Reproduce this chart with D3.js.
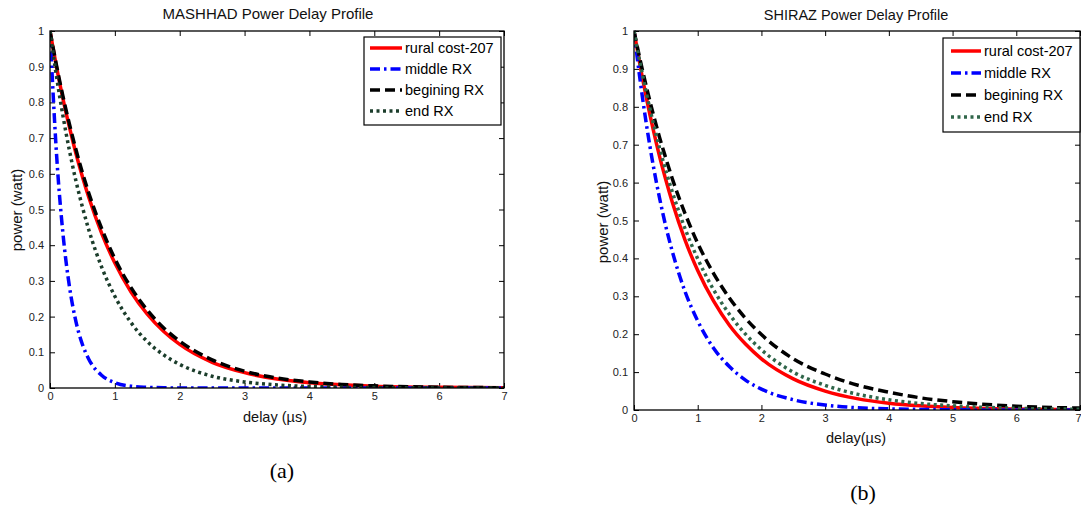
<!DOCTYPE html>
<html><head><meta charset="utf-8">
<script src="https://cdn.jsdelivr.net/npm/d3@7"></script>
<style>
body{margin:0;background:#fff;}
svg{display:block;font-family:"Liberation Sans",Arial,sans-serif;}
</style>
</head><body>
<svg id="chart" width="1081" height="515"></svg>
<script>
// ---- data ----
const delays = [0,0.1,0.2,0.3,0.4,0.5,0.6,0.8,1,1.25,1.5,1.75,2,2.5,3,3.5,4,4.5,5,6,7];
const seriesNames = ["rural cost-207","middle RX","begining RX","end RX"];

// MASHHAD panel (a)
const mashhadRural    = [1,0.90,0.81,0.73,0.657,0.592,0.533,0.432,0.35,0.269,0.207,0.159,0.122,0.072,0.043,0.025,0.015,0.009,0.005,0.002,0.001];
const mashhadMiddle   = [1,0.657,0.432,0.284,0.186,0.122,0.080,0.035,0.015,0.005,0.002,0.0006,0,0,0,0,0,0,0,0,0];
const mashhadBegining = [1,0.904,0.817,0.739,0.668,0.603,0.545,0.445,0.362,0.281,0.218,0.169,0.131,0.079,0.047,0.028,0.017,0.010,0.006,0.0022,0.0008];
const mashhadEnd      = [1,0.873,0.762,0.665,0.58,0.507,0.442,0.337,0.257,0.183,0.13,0.093,0.066,0.033,0.017,0.0086,0.0043,0.0022,0.0011,0.0003,0];

// SHIRAZ panel (b)
const shirazRural    = [1,0.905,0.819,0.741,0.67,0.607,0.549,0.449,0.368,0.287,0.223,0.174,0.135,0.082,0.05,0.03,0.018,0.011,0.0067,0.0025,0.0009];
const shirazMiddle   = [1,0.865,0.748,0.647,0.56,0.484,0.419,0.313,0.235,0.163,0.114,0.079,0.055,0.027,0.013,0.006,0.003,0.0015,0.0007,0,0];
const shirazBegining = [1,0.921,0.849,0.782,0.72,0.664,0.611,0.519,0.44,0.36,0.295,0.242,0.199,0.135,0.095,0.066,0.047,0.032,0.022,0.01,0.005];
const shirazEnd      = [1,0.912,0.832,0.759,0.692,0.631,0.576,0.479,0.399,0.317,0.252,0.2,0.159,0.1,0.065,0.042,0.027,0.017,0.011,0.0045,0.002];

const xTicks = [0,1,2,3,4,5,6,7];
const xTickLabels = ["0","1","2","3","4","5","6","7"];
const yTicks = [0,0.1,0.2,0.3,0.4,0.5,0.6,0.7,0.8,0.9,1];
const yTickLabels = ["0","0.1","0.2","0.3","0.4","0.5","0.6","0.7","0.8","0.9","1"];

// ---- drawing ----
const svg = d3.select("#chart");

const panels = [
  {
    id:"a", title:"MASHHAD Power Delay Profile", xLabel:"delay (\u00b5s)", caption:"(a)",
    values:[mashhadRural, mashhadMiddle, mashhadBegining, mashhadEnd],
    left:50, right:504, top:31, bottom:388,
    titleX:268, titleY:19, titleSize:15,
    xLabelX:275, xLabelY:422, yLabelX:22, yLabelY:210,
    capX:282, capY:478,
    leg:{x0:364, x1:501, y0:37, y1:125, row0:48, step:21, lx0:370, lx1:402, tx:405},
    green:"#1b3d2b", lastTickEnd:false
  },
  {
    id:"b", title:"SHIRAZ Power Delay Profile", xLabel:"delay(\u00b5s)", caption:"(b)",
    values:[shirazRural, shirazMiddle, shirazBegining, shirazEnd],
    left:634, right:1080, top:31, bottom:410,
    titleX:856, titleY:20, titleSize:14.5,
    xLabelX:856, xLabelY:443, yLabelX:608, yLabelY:222,
    capX:863, capY:500,
    leg:{x0:943, x1:1080, y0:38, y1:132, row0:51, step:22, lx0:951, lx1:981, tx:984},
    green:"#30664a", lastTickEnd:true
  }
];

panels.forEach(p => {
  const g = svg.append("g");
  const x = d3.scaleLinear().domain([0,7]).range([p.left, p.right]);
  const y = d3.scaleLinear().domain([0,1]).range([p.bottom, p.top]);

  const styles = [
    {color:"#ff0000", dash:null},
    {color:"#0000ff", dash:"10,4,2.5,4"},
    {color:"#000000", dash:"10,5"},
    {color:p.green, dash:"3,3.5"}
  ];

  const clipId = "clip-" + p.id;
  svg.append("clipPath").attr("id", clipId).append("rect")
    .attr("x", p.left).attr("y", p.top - 2)
    .attr("width", p.right - p.left).attr("height", p.bottom - p.top + 2);

  const axB = d3.axisBottom(x).tickValues(xTicks).tickFormat((d,i)=>xTickLabels[i]).tickSize(-5).tickSizeOuter(0).tickPadding(4);
  const axT = d3.axisTop(x).tickValues(xTicks).tickFormat("").tickSize(-5).tickSizeOuter(0);
  const axL = d3.axisLeft(y).tickValues(yTicks).tickFormat((d,i)=>yTickLabels[i]).tickSize(-5).tickSizeOuter(0).tickPadding(6);
  const axR = d3.axisRight(y).tickValues(yTicks).tickFormat("").tickSize(-5).tickSizeOuter(0);

  const styleAxis = sel => {
    sel.select(".domain").remove();
    sel.selectAll("line").attr("stroke","#000").attr("stroke-width",1);
    sel.selectAll("text").attr("fill","#222").style("font-size","11px")
       .style("font-family",'"Liberation Sans",Arial,sans-serif');
  };
  const bottomAxis = g.append("g").attr("transform",`translate(0,${p.bottom})`).call(axB).call(styleAxis);
  if (p.lastTickEnd) {
    bottomAxis.selectAll(".tick").filter(d => d === 7).select("text").attr("text-anchor","end").attr("dx","1");
  }
  g.append("g").attr("transform",`translate(0,${p.top})`).call(axT).call(styleAxis);
  g.append("g").attr("transform",`translate(${p.left},0)`).call(axL).call(styleAxis);
  g.append("g").attr("transform",`translate(${p.right},0)`).call(axR).call(styleAxis);

  const line = d3.line().x(d=>x(d[0])).y(d=>y(d[1])).curve(d3.curveMonotoneX);
  const lg = g.append("g").attr("clip-path",`url(#${clipId})`);
  p.values.forEach((vals, i) => {
    const pts = delays.map((t,k)=>[t, vals[k]]);
    lg.append("path").datum(pts).attr("d", line)
      .attr("fill","none").attr("stroke", styles[i].color)
      .attr("stroke-width", 3.5).attr("stroke-linejoin","round")
      .attr("stroke-dasharray", styles[i].dash);
  });

  g.append("rect").attr("x",p.left).attr("y",p.top)
    .attr("width",p.right-p.left).attr("height",p.bottom-p.top)
    .attr("fill","none").attr("stroke","#000").attr("stroke-width",1.3);

  const L = p.leg;
  g.append("rect").attr("x",L.x0).attr("y",L.y0).attr("width",L.x1-L.x0).attr("height",L.y1-L.y0)
    .attr("fill","#fff").attr("stroke","#000").attr("stroke-width",1.2);
  seriesNames.forEach((name,i)=>{
    const ry = L.row0 + i*L.step;
    g.append("line").attr("x1",L.lx0).attr("x2",L.lx1).attr("y1",ry).attr("y2",ry)
      .attr("stroke",styles[i].color).attr("stroke-width",3.5)
      .attr("stroke-dasharray", styles[i].dash);
    g.append("text").attr("x",L.tx).attr("y",ry).attr("dy","0.35em")
      .style("font-size","14.5px").attr("fill","#000").text(name);
  });

  g.append("text").attr("x",p.titleX).attr("y",p.titleY).attr("text-anchor","middle")
    .style("font-size",p.titleSize+"px").attr("fill","#111").text(p.title);
  g.append("text").attr("x",p.xLabelX).attr("y",p.xLabelY).attr("text-anchor","middle")
    .style("font-size","14.5px").attr("fill","#111").text(p.xLabel);
  g.append("text").attr("transform",`translate(${p.yLabelX},${p.yLabelY}) rotate(-90)`)
    .attr("text-anchor","middle").style("font-size","15px").attr("fill","#111").text("power (watt)");
  g.append("text").attr("x",p.capX).attr("y",p.capY).attr("text-anchor","middle")
    .style("font-family",'"Liberation Serif","Times New Roman",serif').style("font-size","22px")
    .attr("fill","#000").text(p.caption);
});
</script>
</body></html>
